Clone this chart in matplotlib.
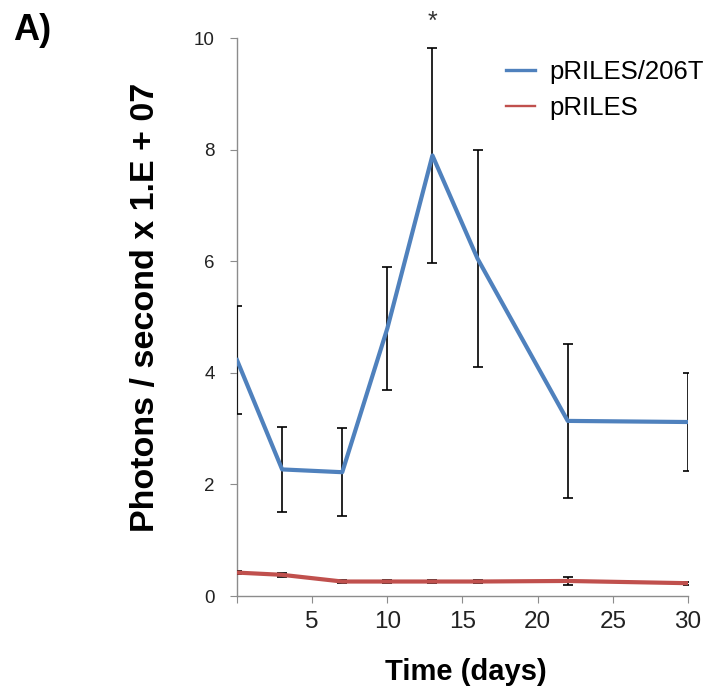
import matplotlib
matplotlib.use("Agg")
import matplotlib.pyplot as plt
from matplotlib.lines import Line2D

plt.rcParams['font.family'] = ['Liberation Sans', 'DejaVu Sans']

days = [0, 3, 7, 10, 13, 16, 22, 30]
prilles_206t = [4.23, 2.27, 2.22, 4.8, 7.9, 6.05, 3.14, 3.12]
prilles_206t_err = [0.97, 0.76, 0.79, 1.1, 1.93, 1.94, 1.38, 0.87]
prilles = [0.42, 0.38, 0.26, 0.26, 0.26, 0.26, 0.27, 0.23]
prilles_err = [0.03, 0.03, 0.03, 0.03, 0.03, 0.03, 0.07, 0.03]
labels = ['pRILES/206T', 'pRILES']
x_ticks = [0, 5, 10, 15, 20, 25, 30]
x_ticklabels = ['', '5', '10', '15', '20', '25', '30']
y_ticks = [0, 2, 4, 6, 8, 10]

fig = plt.figure(figsize=(7.15, 6.98), dpi=100)
ax = fig.add_axes([0.3315, 0.1461, 0.6307, 0.7990])

blue = '#4F81BD'
red = '#C0504D'

ax.errorbar(days, prilles, yerr=prilles_err, color=red, lw=3.0, ecolor='black',
            elinewidth=1.2, capsize=3.5, capthick=1.2, zorder=3)
ax.errorbar(days, prilles_206t, yerr=prilles_206t_err, color=blue, lw=3.0, ecolor='black',
            elinewidth=1.2, capsize=3.5, capthick=1.2, zorder=3)

ax.set_xlim(0, 30)
ax.set_ylim(0, 10)
ax.set_xticks(x_ticks)
ax.set_xticklabels(x_ticklabels)
ax.set_yticks(y_ticks)

for s in ['top', 'right']:
    ax.spines[s].set_visible(False)
for s in ['left', 'bottom']:
    ax.spines[s].set_color('#8c8c8c')
    ax.spines[s].set_linewidth(1.0)

ax.tick_params(axis='x', direction='out', length=5, color='#8c8c8c', labelsize=17.5,
               labelcolor='#222222', pad=6)
ax.tick_params(axis='y', direction='out', length=5, color='#8c8c8c', labelsize=13.5,
               labelcolor='#222222', pad=11)

ax.set_xlabel('Time (days)', fontsize=21, fontweight='bold', va='center')
ax.xaxis.set_label_coords(0.508, -0.136)
ax.set_ylabel('Photons / second x 1.E + 07', fontsize=24.5, fontweight='bold', va='center')
ax.yaxis.set_label_coords(-0.204, 0.518)

ax.annotate('*', xy=(13, 10.3), xycoords='data', ha='center', va='center',
            fontsize=18, color='#333333', annotation_clip=False)

fig.text(13 / 715, 1 - 31 / 698, 'A)', fontsize=26, fontweight='bold', ha='left', va='center')

handles = [Line2D([], [], color=blue, lw=2.4), Line2D([], [], color=red, lw=1.7)]
leg = ax.legend(handles, labels, loc='upper left', bbox_to_anchor=(0.596, 0.961),
                frameon=False, fontsize=18.5, handlelength=1.13, handletextpad=0.58,
                labelspacing=0.46, borderaxespad=0, borderpad=0)

fig.savefig('out.png', dpi=100)
